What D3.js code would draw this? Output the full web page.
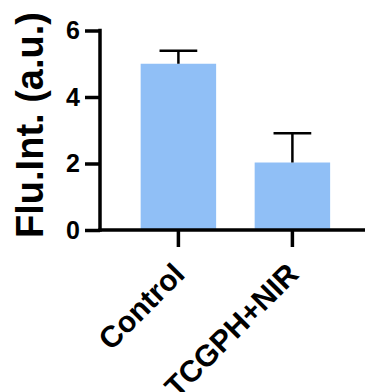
<!DOCTYPE html>
<html>
<head>
<meta charset="utf-8">
<script src="https://cdn.jsdelivr.net/npm/d3@7"></script>
<style>
  html, body { margin: 0; padding: 0; background: #fff; }
  svg { display: block; }
  text { font-family: "Liberation Sans", Arial, sans-serif; font-weight: bold; fill: #000; }
</style>
</head>
<body>
<div id="chart"></div>
<script>
// Groups and their means with upper error (SD)
const groups = ["Control", "TCGPH+NIR"];
const means = [5.0, 2.03];
const errors = [0.39, 0.88];
const yTicks = [0, 2, 4, 6];
const yTitle = "Flu.Int. (a.u.)";

const W = 365, H = 392;
const svg = d3.select("#chart").append("svg")
  .attr("width", W).attr("height", H);

const y = d3.scaleLinear().domain([0, 6]).range([230, 30.5]);
const x = d3.scaleBand().domain(groups)
  .range([121.4, 349.4]).paddingInner(0.338).paddingOuter(0.169);

const barColor = "#90bff6";

// bars
svg.selectAll("rect.bar").data(groups).enter().append("rect")
  .attr("class", "bar")
  .attr("x", d => x(d))
  .attr("width", x.bandwidth())
  .attr("y", (d, i) => y(means[i]))
  .attr("height", (d, i) => y(0) - y(means[i]))
  .attr("fill", barColor);

// upper error bars
const capHalf = x.bandwidth() / 4;
const eb = svg.selectAll("g.err").data(groups).enter().append("g").attr("class", "err");
eb.append("line")
  .attr("x1", d => x(d) + x.bandwidth() / 2)
  .attr("x2", d => x(d) + x.bandwidth() / 2)
  .attr("y1", (d, i) => y(means[i]))
  .attr("y2", (d, i) => y(means[i] + errors[i]))
  .attr("stroke", "#000").attr("stroke-width", 2.5);
eb.append("line")
  .attr("x1", d => x(d) + x.bandwidth() / 2 - capHalf)
  .attr("x2", d => x(d) + x.bandwidth() / 2 + capHalf)
  .attr("y1", (d, i) => y(means[i] + errors[i]))
  .attr("y2", (d, i) => y(means[i] + errors[i]))
  .attr("stroke", "#000").attr("stroke-width", 2.5);

// y axis
const yAxis = svg.append("g")
  .attr("transform", "translate(100,0)")
  .call(d3.axisLeft(y).tickValues(yTicks).tickFormat(d3.format("d"))
    .tickSize(15).tickSizeOuter(0).tickPadding(5));
yAxis.select(".domain").remove();
yAxis.selectAll(".tick line").attr("stroke", "#000").attr("stroke-width", 3.5);
yAxis.selectAll(".tick text")
  .style("font-size", "25px").style("font-weight", "bold")
  .style("font-family", "'Liberation Sans', Arial, sans-serif")
  .attr("fill", "#000");
// vertical axis line
svg.append("line")
  .attr("x1", 100).attr("x2", 100)
  .attr("y1", y(6) - 1.75).attr("y2", y(0) + 1.75)
  .attr("stroke", "#000").attr("stroke-width", 3.5);

// x axis
const xAxis = svg.append("g")
  .attr("transform", `translate(0,${y(0)})`)
  .call(d3.axisBottom(x).tickSize(17).tickSizeOuter(0));
xAxis.select(".domain").remove();
xAxis.selectAll(".tick line").attr("stroke", "#000").attr("stroke-width", 3.5);
xAxis.selectAll(".tick text")
  .attr("text-anchor", "end")
  .attr("x", 0).attr("y", 0).attr("dy", 0)
  .attr("transform", "translate(8,46) rotate(-45)")
  .style("font-size", "30px").style("font-weight", "bold")
  .style("font-family", "'Liberation Sans', Arial, sans-serif")
  .attr("fill", "#000");
svg.append("line")
  .attr("x1", 98.25).attr("x2", W)
  .attr("y1", y(0)).attr("y2", y(0))
  .attr("stroke", "#000").attr("stroke-width", 3.5);

// y title
svg.append("text")
  .attr("transform", "translate(43,125) rotate(-90)")
  .attr("text-anchor", "middle")
  .style("font-size", "38px")
  .text(yTitle);
</script>
</body>
</html>
